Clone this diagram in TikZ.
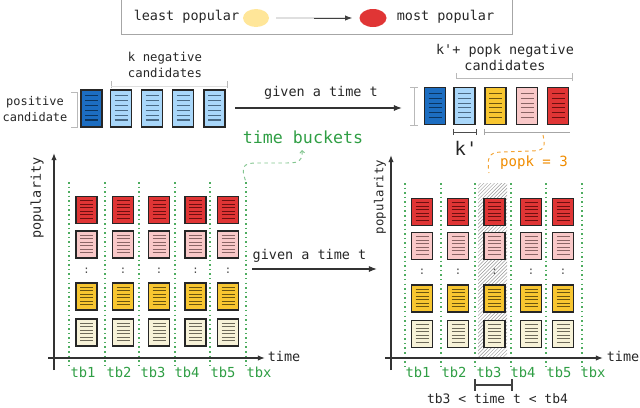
\documentclass[tikz,border=0pt]{standalone}
\usepackage{fontspec}
\newfontfamily\codefont{DejaVu Sans Mono}
\usetikzlibrary{positioning,arrows.meta,calc,patterns,shapes.geometric}
\def\docw{0.63cm}
\def\doch{1.11cm}
\def\cdoch{0.81cm}

\definecolor{docblue}{HTML}{1C6DC1}
\definecolor{docsky}{HTML}{A9D7FA}
\definecolor{docyellow}{HTML}{F8C630}
\definecolor{docpink}{HTML}{F9C8C8}
\definecolor{docred}{HTML}{E03535}
\definecolor{docbeige}{HTML}{F7F2D8}
\definecolor{lineblue}{HTML}{0B3560}
\definecolor{linesky}{HTML}{4A6A85}
\definecolor{lineyellow}{HTML}{6B5510}
\definecolor{linepink}{HTML}{8A6464}
\definecolor{linered}{HTML}{6E1010}
\definecolor{linebeige}{HTML}{6E6A5A}
\definecolor{bucketgreen}{HTML}{2F9E44}
\definecolor{popkorange}{HTML}{F08C00}
\definecolor{legyellow}{HTML}{FFE699}

\begin{document}
\begin{tikzpicture}[
            x=0.03cm, y=-0.03cm,
            lbl/.style={%
                font=\codefont\fontsize{11.5}{13.7}\selectfont,%
                inner sep=1pt, text=black!85, align=center%
            },
            smalllbl/.style={%
                lbl, font=\codefont\fontsize{10.5}{13.7}\selectfont%
            },
            bucket/.style={%
                lbl, text=bucketgreen, font=\codefont\fontsize{11.8}{14}\selectfont%
            },
            doc/.style={%
                draw=black!85, line width=1pt, rectangle, inner sep=0pt,%
                minimum width=\docw, minimum height=\doch,%
                path picture={%
                    \foreach \k in {0.16,0.29,...,0.86}{%
                        \draw[#1, line width=0.9pt]
                            ($(path picture bounding box.north west)!\k!(path picture bounding box.south west)+(4,0)$)
                            -- ++(13,0);
                    }%
                }%
            },
            vdots/.style={font=\codefont\fontsize{9}{9}\selectfont, text=black!70, inner sep=0pt},
            tbline/.style={bucketgreen!85, line width=1.4pt, dash pattern=on 1.3pt off 2.6pt},
            bracket/.style={gray!55, line width=0.7pt},
            axis/.style={black!80, line width=1pt, -{Latex[length=6pt]}},
            arrow/.style={black!80, line width=1pt, -{Latex[length=7pt]}}
        ]
        \useasboundingbox (0,0) rectangle (640,407);

        % legend
        \draw[gray!70, line width=0.8pt] (121,-3) -- (121,34) -- (512,34) -- (512,-3);
        \node (least) [lbl] at (186.5,17) {least popular};
        \node (legy) [ellipse, fill=legyellow, minimum width=0.78cm, minimum height=0.54cm, inner sep=0pt] at (256,18) {};
        \node (legr) [ellipse, fill=docred, minimum width=0.81cm, minimum height=0.54cm, inner sep=0pt] at (373,18) {};
        \node (most) [lbl] at (445.5,17) {most popular};
        \draw [gray!25, line width=1pt, shorten <=6, shorten >=10] (legy) -- (legr);
        \draw [black!75, line width=0.8pt, -{Latex[length=6pt]}, shorten <=38, shorten >=6] (legy) -- (legr);

        % Define nodes (top left)
        \node (pos) [doc=lineblue, fill=docblue] at (91.5,108.5) {};
        \foreach \x [count=\c] in {121,152,183,214.5}
            \node (neg\c) [doc=linesky, fill=docsky] at (\x,108.5) {};
        \node (poslbl) [lbl, inner sep=0pt, font=\codefont\fontsize{10.2}{13.7}\selectfont] at (35,109.5) {positive\\candidate};
        \node (neglbl) [smalllbl] at (165,65) {k negative\\candidates};
        \draw [bracket] (71,92) -- (77,92) -- (77,127) -- (71,127);
        \draw [bracket] (111,81) -- (111,88);
        \draw [gray!25, line width=0.6pt] (111,86) -- (227,86);
        \draw [bracket] (227,81) -- (227,88);

        % top arrow
        \coordinate (topa) at (235,108);
        \coordinate (topb) at (402,108);
        \draw [arrow] (topa) -- (topb);
        \node (givtop) [lbl] at (321,93) {given a time t};

        % Define nodes (top right)
        \node (rpos) [doc=lineblue, fill=docblue] at (435,106) {};
        \node (rsky) [doc=linesky, fill=docsky] at (464.5,106) {};
        \node (ryel) [doc=lineyellow, fill=docyellow] at (495.5,106) {};
        \node (rpink) [doc=linepink, fill=docpink] at (527,106) {};
        \node (rred) [doc=linered, fill=docred] at (558,106) {};
        \node (rnlbl) [lbl] at (505,57.5) {k'+ popk negative\\candidates};
        \draw [bracket] (410,87) -- (418,87) (414,87) -- (414,125) (410,125) -- (418,125);
        \draw [bracket] (456,73) -- (456,79);
        \draw [bracket] (456,78) -- (572,78) (572,73) -- (572,81);
        \draw [black!70, line width=0.7pt] (453,129) -- (453,135) (453,132) -- (476,132) (476,129) -- (476,135);
        \draw [gray!70, line width=0.7pt] (484,129) -- (484,135) (484,132) -- (570,132);
        \node (kprime) [lbl, font=\codefont\fontsize{16}{16}\selectfont] at (466,148) {k'};
        \node (popk) [lbl, text=popkorange, font=\codefont\fontsize{12}{14}\selectfont] at (534,163) {popk = 3};
        \coordinate (popka) at (543,135);
        \coordinate (popkb) at (489,173);
        \draw [popkorange!80, line width=0.8pt, dashed]
            (popka) .. controls (546,148) and (544,151) .. (530,151)
            -- (502,152) .. controls (488,152) and (487,158) .. (popkb);

        % time buckets label
        \node (tblbl) [bucket, font=\codefont\fontsize{14.2}{16}\selectfont] at (303,137) {time buckets};
        \coordinate (tbtop) at (302,150);
        \coordinate (tbbot) at (246,182);
        \draw [bucketgreen!60, line width=0.8pt, dashed, {Straight Barb[length=2pt]}-]
            (tbtop) .. controls (303,162) and (298,163) .. (285,163)
            -- (256,163) .. controls (242,163) and (241,168) .. (tbbot);

        % left chart
        \foreach \x in {69,105,139,175,210,246}
            \draw [tbline] (\x,182) -- (\x,366);
        \draw [axis] (54,370) -- (54,153);
        \draw [axis] (48,358) -- (265,358);
        \node (lpop) [lbl, rotate=90] at (37,198) {popularity};
        \node (ltime) [lbl] at (284,356) {time};
        \foreach \x [count=\c] in {86.5,123,159,195.5,228}{
            \node (lred\c) [doc=linered, fill=docred, minimum height=\cdoch] at (\x,210) {};
            \node (lpink\c) [doc=linepink, fill=docpink, minimum height=\cdoch] at (\x,244.5) {};
            \node (ldots\c) [vdots] at (\x,271) {:};
            \node (lyel\c) [doc=lineyellow, fill=docyellow, minimum height=\cdoch] at (\x,296.5) {};
            \node (lbei\c) [doc=linebeige, fill=docbeige, minimum height=\cdoch] at (\x,332.5) {};
        }
        \foreach \x/\t in {83/tb1,119/tb2,153/tb3,187/tb4,223/tb5,259/tbx}
            \node (l\t) [bucket] at (\x,372) {\t};

        % middle arrow
        \node (givmid) [lbl] at (309.5,256) {given a time t};
        \coordinate (mida) at (252,269);
        \coordinate (midb) at (377,269);
        \draw [arrow] (mida) -- (midb);

        % right chart
        \fill [pattern=north east lines, pattern color=gray!80] (478,183) rectangle (507,357);
        \foreach \x in {405,441,475,511,546,582}
            \draw [tbline] (\x,183) -- (\x,370);
        \draw [axis] (391,370) -- (391,155);
        \draw [axis] (385,358) -- (603,358);
        \node (rpop) [smalllbl, rotate=90] at (380,197) {popularity};
        \node (rtime) [lbl] at (623,356) {time};
        \foreach \x [count=\c] in {422,458,494.5,531,563}{
            \node (rred\c) [doc=linered, fill=docred, minimum height=\cdoch] at (\x,212) {};
            \node (rpink\c) [doc=linepink, fill=docpink, minimum height=\cdoch] at (\x,246) {};
            \node (rdots\c) [vdots] at (\x,272) {:};
            \node (ryel\c) [doc=lineyellow, fill=docyellow, minimum height=\cdoch] at (\x,298.5) {};
            \node (rbei\c) [doc=linebeige, fill=docbeige, minimum height=\cdoch] at (\x,334) {};
        }
        \foreach \x/\t in {418/tb1,454/tb2,489/tb3,523/tb4,559/tb5,593/tbx}
            \node (r\t) [bucket] at (\x,372) {\t};

        % tb3 < time t < tb4
        \draw [black!75, line width=1.6pt] (475,379) -- (475,391) (475,385) -- (512,385) (512,379) -- (512,391);
        \node (range) [lbl, font=\codefont\fontsize{11.1}{13}\selectfont] at (497.5,399) {tb3 < time t < tb4};

\end{tikzpicture}
\end{document}
